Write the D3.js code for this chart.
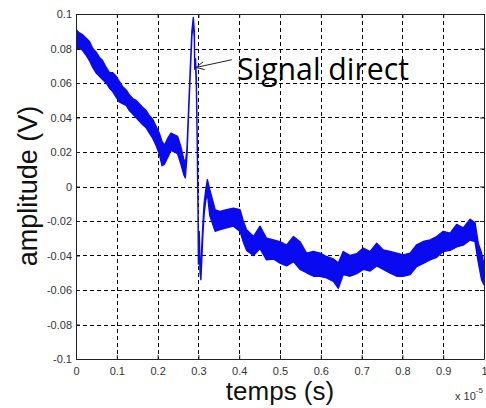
<!DOCTYPE html>
<html><head><meta charset="utf-8">
<script src="https://cdn.jsdelivr.net/npm/d3@7"></script>
<style>html,body{margin:0;padding:0;background:#fff;} svg{display:block}</style>
</head><body>
<svg id="chart" width="486" height="408"></svg>
<script>
// ---- data ----
const xTickValues = [0, 0.1, 0.2, 0.3, 0.4, 0.5, 0.6, 0.7, 0.8, 0.9, 1];
const xTickLabels = ["0", "0.1", "0.2", "0.3", "0.4", "0.5", "0.6", "0.7", "0.8", "0.9", "1"];
const yTickValues = [-0.1, -0.08, -0.06, -0.04, -0.02, 0, 0.02, 0.04, 0.06, 0.08, 0.1];
const yTickLabels = ["-0.1", "-0.08", "-0.06", "-0.04", "-0.02", "0", "0.02", "0.04", "0.06", "0.08", "0.1"];
const xLabel = "temps (s)";
const yLabel = "amplitude (V)";
const xExponentBase = "x 10";
const xExponent = "-5";
const annotationText = "Signal direct";
const annotationTip = [0.294, 0.0690];
const annotationTail = [0.382, 0.0735];

// time (x 1e-5 s), upper and lower envelope of the noisy trace (V)
const traceT = [0.000,0.008,0.016,0.025,0.033,0.041,0.049,0.057,0.065,0.074,0.082,0.090,0.098,0.106,0.114,0.123,0.131,0.139,0.147,0.155,0.163,0.172,0.180,0.188,0.196,0.204,0.211,0.217,0.225,0.233,0.241,0.249,0.257,0.264,0.268,
  0.272,0.276,0.280,0.284,0.2875,0.290,0.291,0.293,0.295,0.297,0.299,0.300,0.302,0.304,0.306,0.308,0.311,0.314,0.318,0.322,
  0.328,0.341,0.353,0.369,0.386,0.402,0.410,0.418,0.435,0.451,0.467,0.484,0.500,0.516,0.533,0.549,0.565,0.582,0.598,0.614,0.631,0.643,0.655,0.672,0.688,0.704,0.721,0.737,0.753,0.770,0.786,0.802,0.819,0.835,0.851,0.868,0.884,0.900,0.917,0.933,0.949,0.966,0.978,0.986,0.994,1.000];
const traceHi = [0.091,0.089,0.088,0.086,0.084,0.080,0.078,0.075,0.073,0.069,0.066,0.066,0.064,0.061,0.058,0.056,0.053,0.051,0.050,0.048,0.046,0.044,0.041,0.039,0.035,0.031,0.026,0.024,0.028,0.031,0.030,0.029,0.023,0.016,0.013,
  0.022,0.045,0.068,0.090,0.098,0.090,0.072,0.074,0.062,0.030,-0.010,-0.040,-0.026,-0.045,-0.050,-0.036,-0.022,-0.010,-0.002,0.004,
  -0.002,-0.0135,-0.0145,-0.0135,-0.0126,-0.0135,-0.020,-0.025,-0.029,-0.023,-0.030,-0.031,-0.032,-0.034,-0.029,-0.032,-0.0386,-0.0377,-0.0386,-0.0406,-0.042,-0.0444,-0.0377,-0.040,-0.039,-0.0357,-0.0377,-0.0329,-0.0368,-0.0377,-0.0386,-0.0396,-0.0386,-0.0338,-0.0319,-0.031,-0.029,-0.026,-0.027,-0.022,-0.024,-0.019,-0.021,-0.033,-0.0386,-0.045];
const traceLo = [0.080,0.080,0.079,0.076,0.073,0.069,0.066,0.064,0.062,0.060,0.057,0.055,0.052,0.049,0.048,0.047,0.044,0.042,0.040,0.038,0.036,0.034,0.031,0.028,0.024,0.019,0.012,0.013,0.017,0.021,0.020,0.019,0.013,0.007,0.005,
  0.018,0.042,0.065,0.087,0.095,0.086,0.068,0.070,0.058,0.026,-0.014,-0.045,-0.032,-0.050,-0.054,-0.044,-0.028,-0.016,-0.008,-0.004,
  -0.017,-0.026,-0.025,-0.024,-0.023,-0.026,-0.032,-0.037,-0.040,-0.036,-0.0425,-0.042,-0.0444,-0.046,-0.0435,-0.048,-0.050,-0.052,-0.052,-0.053,-0.055,-0.059,-0.051,-0.052,-0.0505,-0.048,-0.049,-0.046,-0.048,-0.0502,-0.052,-0.052,-0.051,-0.0464,-0.0445,-0.0425,-0.041,-0.0377,-0.037,-0.035,-0.034,-0.031,-0.032,-0.044,-0.054,-0.057];

// ---- drawing ----
const svg = d3.select("#chart");
const L = 76, R = 484, T = 14, B = 359;
const x = d3.scaleLinear().domain([0, 1]).range([L, R]);
const y = d3.scaleLinear().domain([-0.1, 0.1]).range([B, T]);
const tickFont = "Liberation Sans, Arial, sans-serif";

svg.append("rect").attr("width", 486).attr("height", 408).attr("fill", "#fff");

// grid
const grid = svg.append("g").attr("stroke", "#000").attr("stroke-width", 1).attr("stroke-dasharray", "4,3");
grid.selectAll("line.v").data(xTickValues.slice(1, -1)).join("line")
  .attr("x1", d => Math.round(x(d)) + 0.5).attr("x2", d => Math.round(x(d)) + 0.5)
  .attr("y1", T).attr("y2", B);
grid.selectAll("line.h").data(yTickValues.slice(1, -1)).join("line")
  .attr("y1", d => Math.round(y(d)) + 0.5).attr("y2", d => Math.round(y(d)) + 0.5)
  .attr("x1", L).attr("x2", R);

// trace
svg.append("clipPath").attr("id", "clip").append("rect")
  .attr("x", L).attr("y", T).attr("width", R - L).attr("height", B - T);
const pts = traceT.map((t, i) => ({t, hi: traceHi[i], lo: traceLo[i]}));
const area = d3.area().x(d => x(d.t)).y0(d => y(d.lo)).y1(d => y(d.hi));
svg.append("path").datum(pts).attr("clip-path", "url(#clip)")
  .attr("d", area).attr("fill", "#0a0af0").attr("stroke", "#0a0af0")
  .attr("stroke-width", 1.4).attr("stroke-linejoin", "round");

// axes
function styleAxis(g) {
  g.selectAll("path.domain").attr("stroke", "#222");
  g.selectAll(".tick line").attr("stroke", "#222");
  g.selectAll("text").attr("fill", "#333").attr("font-size", 11).attr("font-family", tickFont);
}
svg.append("g").attr("transform", `translate(0,${B})`)
  .call(d3.axisBottom(x).tickValues(xTickValues).tickFormat((d, i) => xTickLabels[i])
    .tickSizeInner(-4).tickSizeOuter(0).tickPadding(8)).call(styleAxis);
svg.append("g").attr("transform", `translate(${L},0)`)
  .call(d3.axisLeft(y).tickValues(yTickValues).tickFormat((d, i) => yTickLabels[i])
    .tickSizeInner(-4).tickSizeOuter(0).tickPadding(4)).call(styleAxis);
svg.append("g").attr("transform", `translate(0,${T})`)
  .call(d3.axisTop(x).tickValues(xTickValues).tickFormat("").tickSizeInner(-4).tickSizeOuter(0)).call(styleAxis);
svg.append("g").attr("transform", `translate(${R},0)`)
  .call(d3.axisRight(y).tickValues(yTickValues).tickFormat("").tickSizeInner(-4).tickSizeOuter(0)).call(styleAxis);

// axis labels
svg.append("text").attr("x", 280).attr("y", 400).attr("text-anchor", "middle")
  .attr("font-family", tickFont).attr("font-size", 26).attr("fill", "#111").text(xLabel);
svg.append("text").attr("transform", "translate(37,186) rotate(-90)").attr("text-anchor", "middle")
  .attr("font-family", tickFont).attr("font-size", 27).attr("fill", "#111").text(yLabel);

// exponent
const ex = svg.append("text").attr("x", 455).attr("y", 400)
  .attr("font-family", tickFont).attr("font-size", 11).attr("fill", "#333");
ex.append("tspan").text(xExponentBase);
ex.append("tspan").attr("font-size", 8).attr("dy", -7).text(xExponent);

// annotation
const tip = [x(annotationTip[0]), y(annotationTip[1])];
const tail = [x(annotationTail[0]), y(annotationTail[1])];
const ang = Math.atan2(tail[1] - tip[1], tail[0] - tip[0]);
const ah = 9, aw = 0.45;
const ann = svg.append("g").attr("stroke", "#222").attr("stroke-width", 1).attr("fill", "none");
ann.append("line").attr("x1", tail[0]).attr("y1", tail[1]).attr("x2", tip[0]).attr("y2", tip[1]);
ann.append("path").attr("d", d3.line()([
  [tip[0] + ah * Math.cos(ang + aw), tip[1] + ah * Math.sin(ang + aw)],
  tip,
  [tip[0] + ah * Math.cos(ang - aw), tip[1] + ah * Math.sin(ang - aw)]
]));
svg.append("text").attr("x", 237).attr("y", 80)
  .attr("font-family", "Open Sans, Noto Sans, sans-serif").attr("font-size", 31)
  .attr("textLength", 172).attr("lengthAdjust", "spacingAndGlyphs")
  .attr("fill", "#000").text(annotationText);
</script>
</body></html>
